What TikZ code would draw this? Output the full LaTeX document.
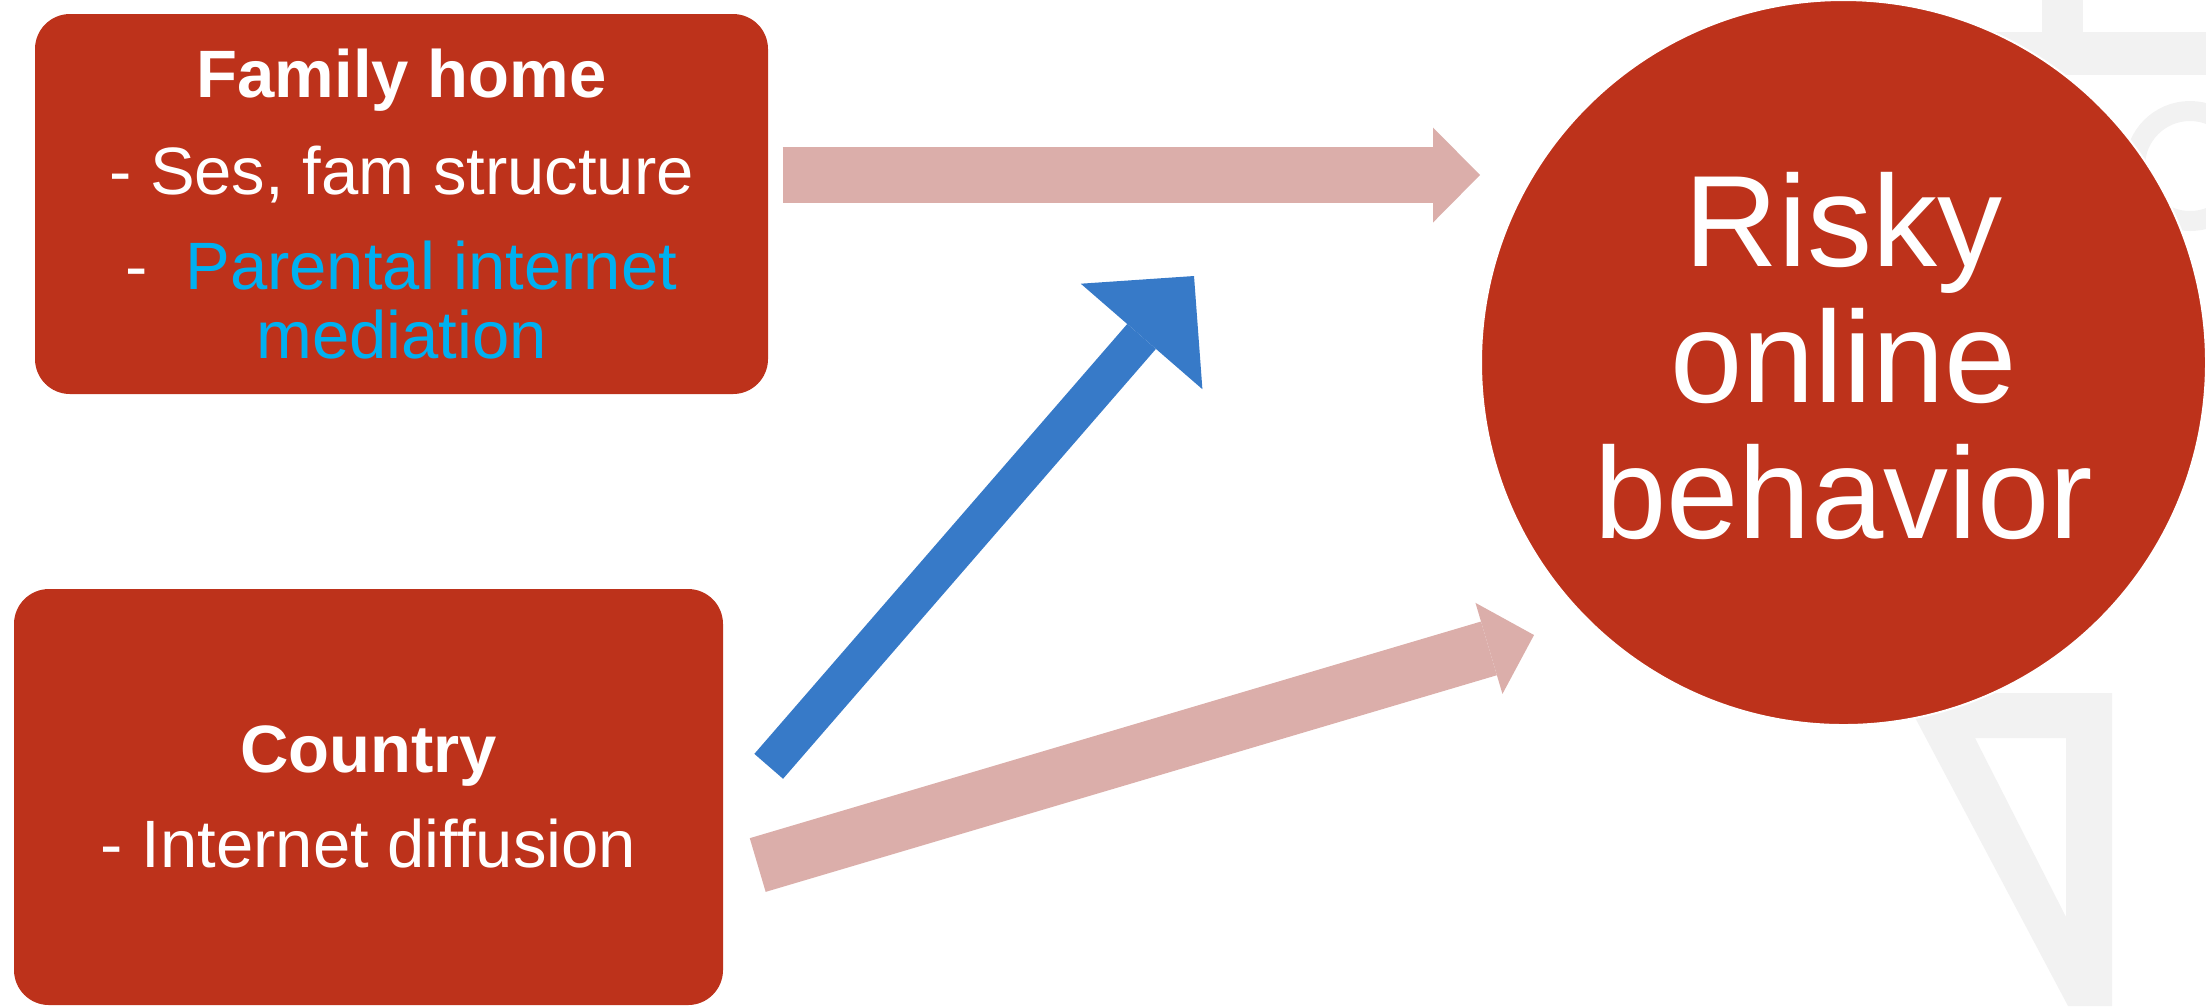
\documentclass[tikz,border=0pt]{standalone}
\usepackage{fontspec}
\setmainfont{Liberation Sans}
\usetikzlibrary{arrows.meta}

\definecolor{boxred}{HTML}{BD321B}
\definecolor{pathpink}{HTML}{DBAEAA}
\definecolor{modblue}{HTML}{377AC8}
\definecolor{medcyan}{HTML}{00B0F0}
\definecolor{sealgray}{HTML}{F2F2F2}

\tikzset{
  factor/.style={rectangle, rounded corners=0.35cm, fill=boxred, text=white,
    align=center, inner sep=0pt, font=\fontsize{19.07pt}{19.64pt}\selectfont},
  outcome/.style={circle, fill=boxred, draw=white, line width=0.02cm, text=white,
    align=center, inner sep=0pt, minimum size=7.25cm, text depth=0.14cm,
    font=\fontsize{36.99pt}{38.70pt}\selectfont},
  effect/.style={draw=pathpink, line width=0.56cm,
    -{Triangle[width=0.95cm, length=0.47cm, line width=0pt]}},
  moderation/.style={draw=modblue, line width=0.38cm,
    -{Triangle[width=1.61cm, length=0.80cm, line width=0pt]}}
}

\begin{document}
\begin{tikzpicture}
  \useasboundingbox (0,0) rectangle (22.06,-10.06);

  % Seal in the background
  \fill[sealgray, even odd rule] (19.02,-6.93) -- (21.12,-6.93) -- (21.12,-10.06) -- (20.68,-10.06) -- cycle
    (19.75,-7.38) -- (20.66,-7.38) -- (20.66,-9.17) -- cycle;
  \fill[sealgray] (20.42,0) rectangle (20.83,-0.32);
  \fill[sealgray] (19.90,-0.32) rectangle (22.06,-0.75);
  \draw[sealgray, line width=0.2cm] (21.90,-1.66) circle (0.55);

  % Factors and outcome
  \node[factor, minimum width=7.33cm, minimum height=3.80cm] (fam) at (4.015,-2.04)
    {\textbf{Family home}\\[0.28cm] - Ses, fam structure\\[0.26cm]
     -\ \ \textcolor{medcyan}{Parental internet}\\ \textcolor{medcyan}{mediation}};
  \node[factor, minimum width=7.09cm, minimum height=4.16cm] (ctry) at (3.685,-7.97)
    {\textbf{Country}\\[0.26cm] - Internet diffusion};
  \node[outcome] (risk) at (18.435,-3.625) {Risky\\ online\\ behavior};

  % Effects
  \coordinate (famout) at ([shift={(0.14,0.29)}]fam.east);
  \coordinate (modpt) at (11.94,-2.76);
  \coordinate (riskpt) at (15.34,-6.35);
  \draw[effect] (famout) -- (famout -| risk.west);
  \draw[moderation] ([shift={(0.45,-1.78)}]ctry.north east) -- (modpt);
  \draw[effect] ([shift={(0.34,-0.68)}]ctry.east) -- (riskpt);

\end{tikzpicture}
\end{document}
